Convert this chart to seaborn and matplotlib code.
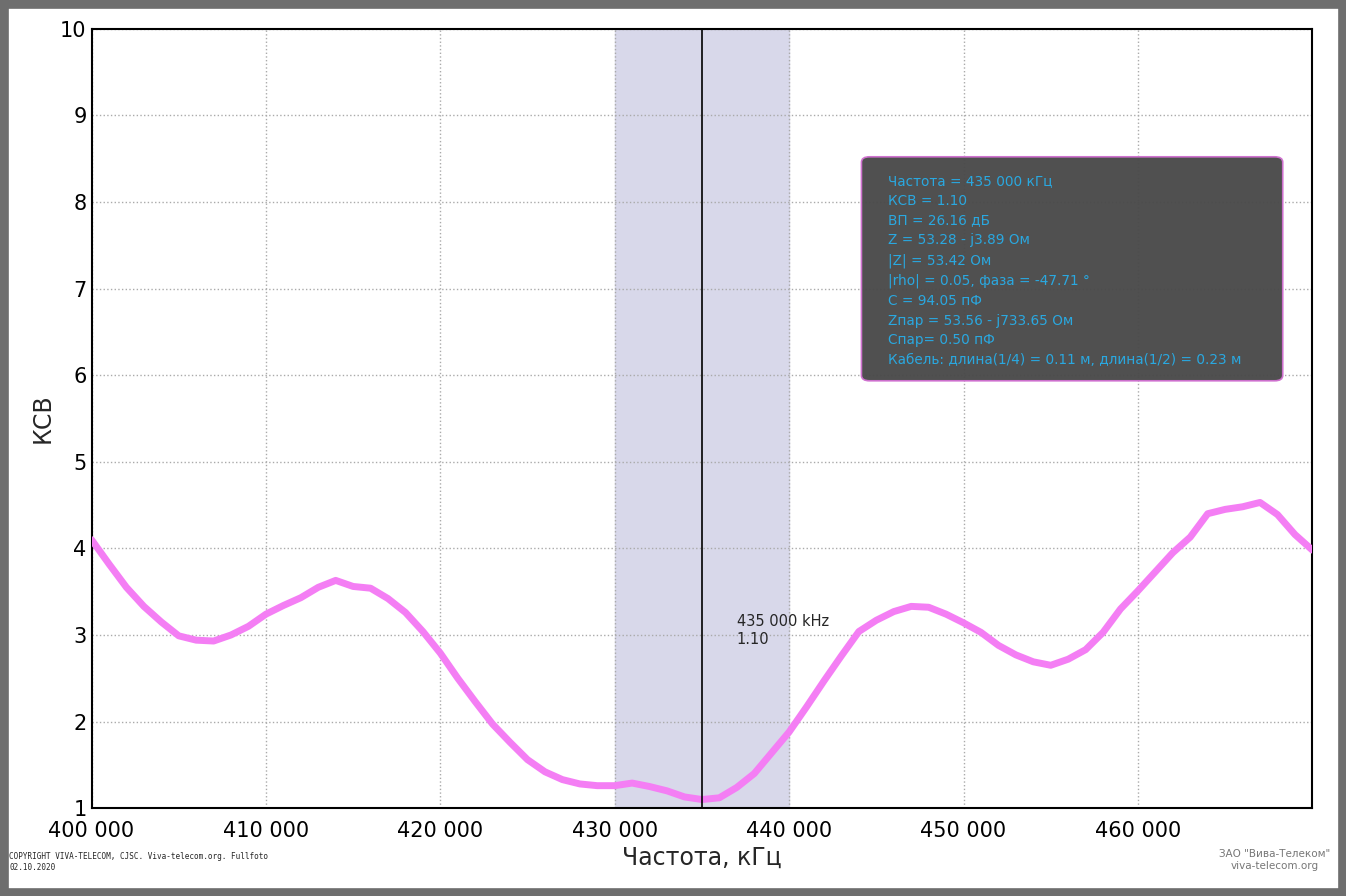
import numpy as np
import matplotlib
matplotlib.use("Agg")
import matplotlib.pyplot as plt
import matplotlib.ticker as mticker
from matplotlib.patches import FancyBboxPatch, Rectangle
import seaborn as sns

# Frequency sweep, kHz
freq_khz = np.arange(400000, 471000, 1000)
swr = [4.10, 3.82, 3.55, 3.33, 3.15, 2.99, 2.94, 2.93, 3.00, 3.10,
       3.24, 3.34, 3.43, 3.55, 3.63, 3.56, 3.54, 3.42, 3.26, 3.04,
       2.79, 2.50, 2.23, 1.97, 1.76, 1.56, 1.42, 1.33, 1.28, 1.26,
       1.26, 1.29, 1.25, 1.20, 1.13, 1.10, 1.12, 1.24, 1.40, 1.64,
       1.88, 2.17, 2.47, 2.76, 3.04, 3.17, 3.27, 3.33, 3.32, 3.24,
       3.14, 3.03, 2.88, 2.77, 2.69, 2.65, 2.72, 2.83, 3.03, 3.30,
       3.51, 3.73, 3.95, 4.13, 4.40, 4.45, 4.48, 4.53, 4.39, 4.16,
       3.98]

band = (430000, 440000)
marker_f = 435000
marker_swr = 1.10

info_lines = [
    "Частота = 435 000 кГц",
    "КСВ = 1.10",
    "ВП = 26.16 дБ",
    "Z = 53.28 - j3.89 Ом",
    "|Z| = 53.42 Ом",
    "|rho| = 0.05, фаза = -47.71 °",
    "C = 94.05 пФ",
    "Zпар = 53.56 - j733.65 Ом",
    "Cпар= 0.50 пФ",
    "Кабель: длина(1/4) = 0.11 м, длина(1/2) = 0.23 м",
]

sns.set_theme(style="white")
plt.rcParams["font.family"] = ["DejaVu Sans"]

fig = plt.figure(figsize=(13.46, 8.96), dpi=100, facecolor="white")
ax = fig.add_axes([0.068, 0.098, 0.907, 0.870])

ax.axvspan(*band, color="#d8d8ea", zorder=0)
sns.lineplot(x=freq_khz, y=swr, ax=ax, color="#f47ef4", linewidth=5, zorder=3)
ax.axvline(marker_f, color="black", linewidth=1.2, zorder=4)
ax.text(marker_f + 2000, 3.05, "435 000 kHz\n1.10", fontsize=10.5, va="center",
        linespacing=1.3, zorder=5)

ax.set_xlim(400000, 470000)
ax.set_ylim(1.05, 10)
ax.xaxis.set_major_locator(mticker.MultipleLocator(10000))
ax.xaxis.set_minor_locator(mticker.MultipleLocator(2000))
ax.xaxis.set_major_formatter(mticker.FuncFormatter(
    lambda v, p: "" if v >= 470000 else f"{int(v):,}".replace(",", " ")))
ax.set_yticks(range(1, 11))
ax.yaxis.set_minor_locator(mticker.MultipleLocator(0.5))
ax.tick_params(axis="both", which="major", direction="in", length=8, labelsize=15, colors="black")
ax.tick_params(axis="x", which="major", pad=9)
ax.tick_params(axis="both", which="minor", direction="in", length=4)
ax.grid(True, which="major", linestyle=":", color="#aaaaaa", linewidth=1)
for s in ax.spines.values():
    s.set_color("black")
    s.set_linewidth(1.5)
ax.set_xlabel("Частота, кГц", fontsize=17, labelpad=4)
ax.set_ylabel("КСВ", fontsize=17)

# info panel
box = FancyBboxPatch((0.640, 0.575), 0.313, 0.250, boxstyle="round,pad=0,rounding_size=0.006",
                     transform=fig.transFigure, facecolor="#4a4a4a", edgecolor="#d070d0",
                     linewidth=1.2, alpha=0.97, zorder=10)
fig.patches.append(box)
fig.text(0.660, 0.806, "\n".join(info_lines), color="#2aa8e0", fontsize=9.8,
         va="top", ha="left", linespacing=1.53, zorder=11)

fig.text(0.007, 0.038, "COPYRIGHT VIVA-TELECOM, CJSC. Viva-telecom.org. Fullfoto\n02.10.2020",
         fontsize=5.5, family="monospace", va="center")
fig.text(0.947, 0.04, "ЗАО \"Вива-Телеком\"\nviva-telecom.org", fontsize=7.5,
         color="#777777", ha="center", va="center")

fig.patches.append(Rectangle((0, 0), 1, 1, transform=fig.transFigure, fill=False,
                             edgecolor="#6e6e6e", linewidth=12, zorder=20))

fig.savefig("out.png", dpi=100)
plt.close()
